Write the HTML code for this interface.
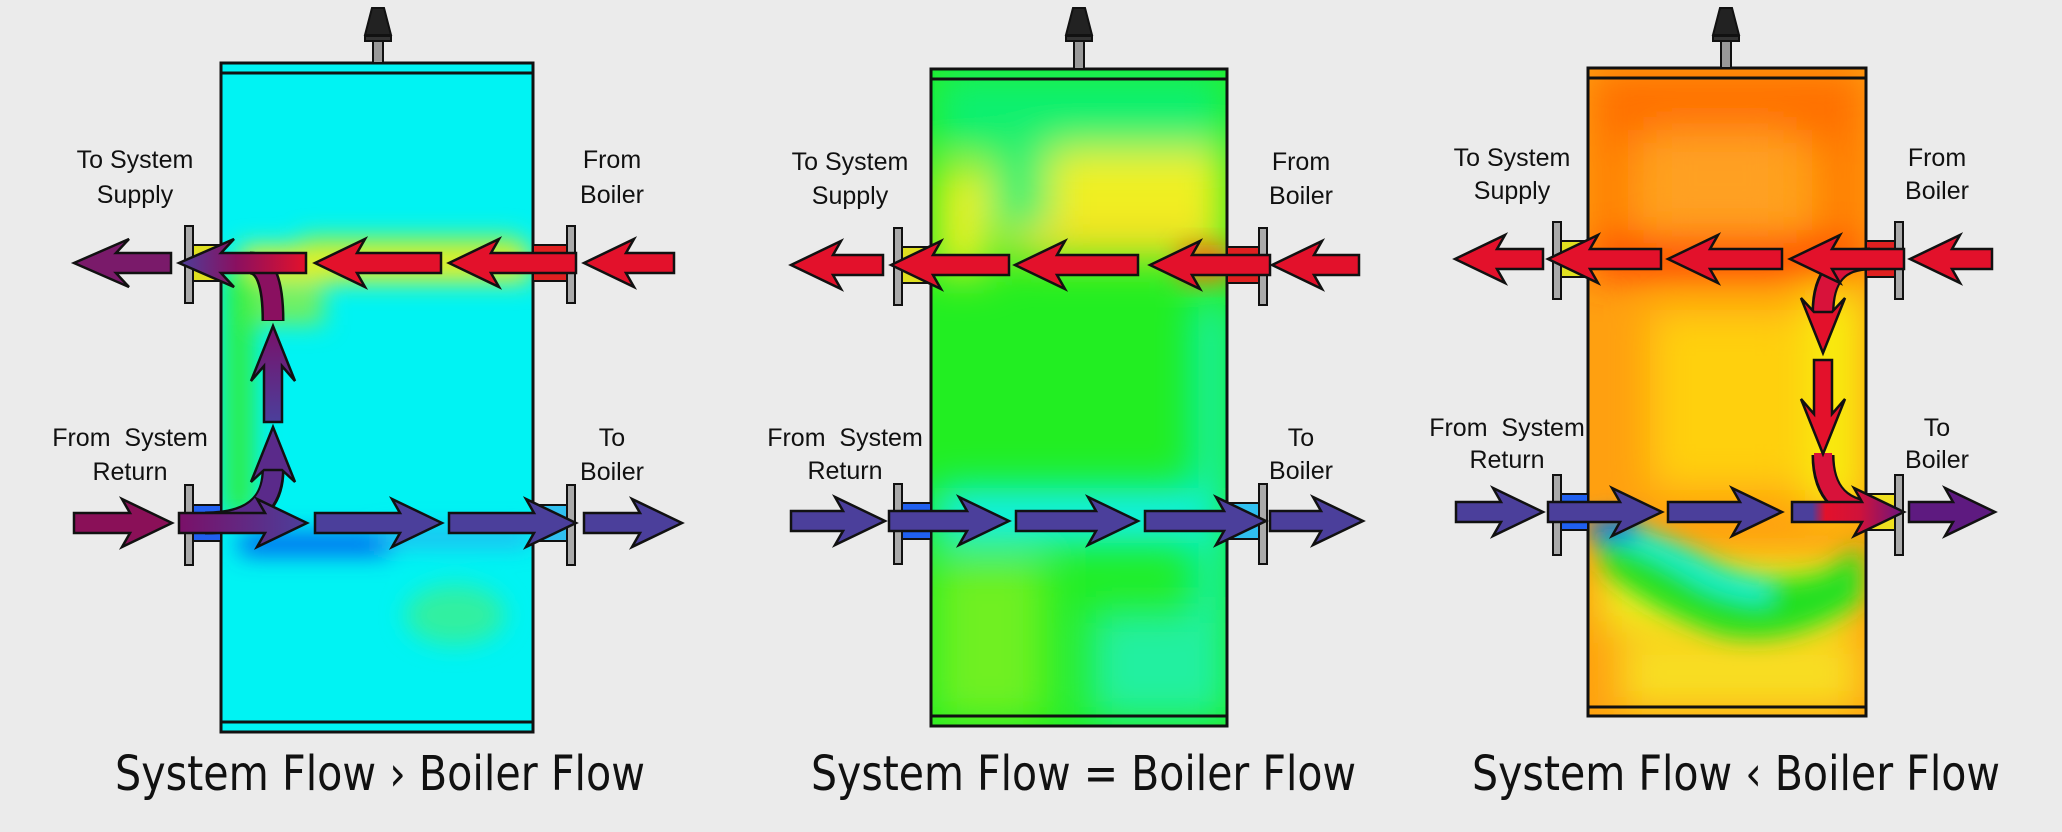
<!DOCTYPE html>
<html><head><meta charset="utf-8"><style>
html,body{margin:0;padding:0;background:#ebebeb;}
svg{display:block}
.lb{font-family:"Liberation Sans",sans-serif;font-size:25px;fill:#111;text-anchor:middle}
.cap{font-family:"DejaVu Sans","Liberation Sans",sans-serif;font-size:48px;fill:#111}
.ar{stroke:#111;stroke-width:2.5;stroke-linejoin:miter}
</style></head><body>
<svg width="2062" height="832" viewBox="0 0 2062 832" xmlns="http://www.w3.org/2000/svg">
<defs>
<filter id="b" x="-50%" y="-50%" width="200%" height="200%"><feGaussianBlur stdDeviation="12"/></filter>
<filter id="b2" x="-50%" y="-50%" width="200%" height="200%"><feGaussianBlur stdDeviation="20"/></filter>
<clipPath id="c1"><rect x="221" y="63" width="312" height="669"/></clipPath>
<clipPath id="c2"><rect x="931" y="69" width="296" height="657"/></clipPath>
<clipPath id="c3"><rect x="1588" y="68" width="278" height="648"/></clipPath>
<linearGradient id="g1a" x1="0" x2="1"><stop offset="0" stop-color="#4b3f9b"/><stop offset="0.45" stop-color="#8a1060"/><stop offset="1" stop-color="#e3112b"/></linearGradient>
<linearGradient id="g1b" x1="0" x2="1"><stop offset="0" stop-color="#7a1068"/><stop offset="1" stop-color="#4b3f9b"/></linearGradient>
<linearGradient id="g3" x1="0" x2="1"><stop offset="0" stop-color="#4b3f9b"/><stop offset="0.18" stop-color="#4b3f9b"/><stop offset="0.3" stop-color="#e3112b"/><stop offset="0.6" stop-color="#d0123a"/><stop offset="1" stop-color="#6a1580"/></linearGradient>
<linearGradient id="gv" x1="0" y1="1" x2="0" y2="0"><stop offset="0" stop-color="#4b3f9b"/><stop offset="1" stop-color="#7a1068"/></linearGradient>
</defs>
<rect width="2062" height="832" fill="#ebebeb"/>

<!-- ===== Panel 1 ===== -->
<g clip-path="url(#c1)">
<rect x="221" y="63" width="312" height="669" fill="#00f3f3"/>
<g filter="url(#b)">
<rect x="240" y="246" width="290" height="36" fill="#e8f020"/>
<rect x="300" y="236" width="220" height="16" fill="#a0f040"/>
<rect x="224" y="270" width="30" height="245" fill="#30ee40"/>
<rect x="254" y="285" width="70" height="40" fill="#70f060"/>
<rect x="240" y="534" width="150" height="20" fill="#0050f0"/>
<rect x="380" y="530" width="150" height="14" fill="#30a0f0"/>
<ellipse cx="455" cy="615" rx="50" ry="30" fill="#30f0a0"/>
</g>
</g>
<rect x="221" y="63" width="312" height="669" fill="none" stroke="#111" stroke-width="3"/>
<line x1="221" y1="73" x2="533" y2="73" stroke="#111" stroke-width="3"/>
<line x1="221" y1="722" x2="533" y2="722" stroke="#111" stroke-width="3"/>
<g stroke="#111" stroke-width="2" fill="#555"><rect x="373" y="40" width="10" height="23" fill="#999"/><rect x="365" y="36" width="26" height="5" fill="#333"/><path d="M372 8 L384 8 L391 35 L365 35 Z" fill="#222"/></g>
<g stroke="#111" stroke-width="2" fill="#888">
<rect x="193" y="245" width="28" height="36" fill="#e0e020"/><rect x="185" y="226" width="8" height="77" fill="#aaa"/>
<rect x="193" y="505" width="28" height="36" fill="#2060f0"/><rect x="185" y="485" width="8" height="80" fill="#aaa"/>
<rect x="533" y="245" width="34" height="36" fill="#e02020"/><rect x="567" y="226" width="8" height="77" fill="#aaa"/>
<rect x="533" y="505" width="34" height="36" fill="#30c0f0"/><rect x="567" y="485" width="8" height="80" fill="#aaa"/>
</g>
<path d="M250 263 Q273 263 273 321" fill="none" stroke="#111" stroke-width="23"/>
<path d="M250 263 Q273 263 273 320" fill="none" stroke="#8a1060" stroke-width="18"/>
<path d="M205 523 Q273 523 273 470" fill="none" stroke="#111" stroke-width="23"/>
<path d="M205 523 Q273 523 273 468" fill="none" stroke="#5a2a8a" stroke-width="18"/>
<polygon class="ar" fill="#7a1a6a" points="171,253 116,253 129,239 74,263 129,287 116,273 171,273"/>
<polygon class="ar" fill="url(#g1a)" points="306,253 221,253 234,239 179,263 234,287 221,273 306,273"/>
<polygon class="ar" fill="#e3112b" points="441,253 357,253 365,239 315,263 365,287 357,273 441,273"/>
<polygon class="ar" fill="#e3112b" points="576,253 491,253 499,239 449,263 499,287 491,273 576,273"/>
<polygon class="ar" fill="#e3112b" points="674,253 626,253 634,239 584,263 634,287 626,273 674,273"/>
<polygon class="ar" fill="#8a1058" points="74,513 130,513 122,499 172,523 122,547 130,533 74,533"/>
<polygon class="ar" fill="url(#g1b)" points="179,513 265,513 257,499 307,523 257,547 265,533 179,533"/>
<polygon class="ar" fill="#4b3f9b" points="315,513 400,513 392,499 442,523 392,547 400,533 315,533"/>
<polygon class="ar" fill="#4b3f9b" points="449,513 534,513 526,499 576,523 526,547 534,533 449,533"/>
<polygon class="ar" fill="#4b3f9b" points="584,513 640,513 632,499 682,523 632,547 640,533 584,533"/>
<polygon class="ar" fill="url(#gv)" points="264,422 264,366 251,381 273,326 295,381 282,366 282,422"/>
<polygon class="ar" fill="#5a2a8a" points="264,470 251,482 273,427 295,482 282,470"/>
<text class="lb" x="135" y="168">To System</text><text class="lb" x="135" y="203">Supply</text>
<text class="lb" x="612" y="168">From</text><text class="lb" x="612" y="203">Boiler</text>
<text class="lb" x="130" y="446">From&#160; System</text><text class="lb" x="130" y="480">Return</text>
<text class="lb" x="612" y="446">To</text><text class="lb" x="612" y="480">Boiler</text>
<text class="cap" x="115" y="790" textLength="530" lengthAdjust="spacingAndGlyphs">System Flow › Boiler Flow</text>

<!-- ===== Panel 2 ===== -->
<g clip-path="url(#c2)">
<rect x="931" y="69" width="296" height="657" fill="#22ee22"/>
<g filter="url(#b2)">
<rect x="935" y="72" width="290" height="80" fill="#10f070"/>
<rect x="1050" y="150" width="175" height="110" fill="#f0f020"/>
<rect x="1010" y="220" width="200" height="40" fill="#f0e020"/>
<rect x="935" y="165" width="55" height="110" fill="#e8f020"/>
<rect x="990" y="140" width="60" height="90" fill="#30f070"/>
<rect x="935" y="488" width="290" height="55" fill="#10f0f0"/>
<rect x="1195" y="300" width="32" height="420" fill="#10f0c0"/>
<rect x="935" y="560" width="110" height="160" fill="#70f020"/>
<rect x="1090" y="610" width="130" height="110" fill="#20f0a0"/>
</g>
<rect x="1180" y="245" width="50" height="35" fill="#f07010" filter="url(#b)"/>
</g>
<rect x="931" y="69" width="296" height="657" fill="none" stroke="#111" stroke-width="3"/>
<line x1="931" y1="79" x2="1227" y2="79" stroke="#111" stroke-width="3"/>
<line x1="931" y1="716" x2="1227" y2="716" stroke="#111" stroke-width="3"/>
<g stroke="#111" stroke-width="2"><rect x="1074" y="40" width="10" height="29" fill="#999"/><rect x="1066" y="36" width="26" height="5" fill="#333"/><path d="M1073 8 L1085 8 L1092 35 L1066 35 Z" fill="#222"/></g>
<g stroke="#111" stroke-width="2" fill="#888">
<rect x="902" y="247" width="29" height="36" fill="#e0e020"/><rect x="894" y="228" width="8" height="77" fill="#aaa"/>
<rect x="902" y="503" width="29" height="36" fill="#2060f0"/><rect x="894" y="484" width="8" height="80" fill="#aaa"/>
<rect x="1227" y="247" width="32" height="36" fill="#e02020"/><rect x="1259" y="228" width="8" height="77" fill="#aaa"/>
<rect x="1227" y="503" width="32" height="36" fill="#30c0f0"/><rect x="1259" y="484" width="8" height="80" fill="#aaa"/>
</g>
<polygon class="ar" fill="#e3112b" points="883,255 833,255 841,241 791,265 841,289 833,275 883,275"/>
<polygon class="ar" fill="#e3112b" points="1009,255 933,255 941,241 891,265 941,289 933,275 1009,275"/>
<polygon class="ar" fill="#e3112b" points="1138,255 1057,255 1065,241 1015,265 1065,289 1057,275 1138,275"/>
<polygon class="ar" fill="#e3112b" points="1270,255 1192,255 1200,241 1150,265 1200,289 1192,275 1270,275"/>
<polygon class="ar" fill="#e3112b" points="1359,255 1314,255 1322,241 1272,265 1322,289 1314,275 1359,275"/>
<polygon class="ar" fill="#4b3f9b" points="791,511 843,511 835,497 885,521 835,545 843,531 791,531"/>
<polygon class="ar" fill="#4b3f9b" points="889,511 967,511 959,497 1009,521 959,545 967,531 889,531"/>
<polygon class="ar" fill="#4b3f9b" points="1016,511 1096,511 1088,497 1138,521 1088,545 1096,531 1016,531"/>
<polygon class="ar" fill="#4b3f9b" points="1145,511 1224,511 1216,497 1266,521 1216,545 1224,531 1145,531"/>
<polygon class="ar" fill="#4b3f9b" points="1270,511 1321,511 1313,497 1363,521 1313,545 1321,531 1270,531"/>
<text class="lb" x="850" y="170">To System</text><text class="lb" x="850" y="204">Supply</text>
<text class="lb" x="1301" y="170">From</text><text class="lb" x="1301" y="204">Boiler</text>
<text class="lb" x="845" y="446">From&#160; System</text><text class="lb" x="845" y="479">Return</text>
<text class="lb" x="1301" y="446">To</text><text class="lb" x="1301" y="479">Boiler</text>
<text class="cap" x="811" y="790" textLength="545" lengthAdjust="spacingAndGlyphs">System Flow = Boiler Flow</text>

<!-- ===== Panel 3 ===== -->
<g clip-path="url(#c3)">
<rect x="1588" y="68" width="278" height="648" fill="#ffa010"/>
<g filter="url(#b2)">
<rect x="1590" y="70" width="275" height="70" fill="#ff7000"/>
<rect x="1590" y="140" width="40" height="120" fill="#ff7a00"/>
<rect x="1820" y="140" width="45" height="110" fill="#ff7a00"/>
<rect x="1650" y="130" width="140" height="100" fill="#ffa020"/>
<rect x="1590" y="240" width="275" height="36" fill="#ff3a00"/>
<rect x="1650" y="310" width="150" height="180" fill="#ffd010"/>
<rect x="1805" y="290" width="58" height="220" fill="#f8f010"/>
<rect x="1600" y="560" width="250" height="70" fill="#f0f020"/>
<rect x="1620" y="640" width="240" height="70" fill="#f8e020"/>
</g>
<g filter="url(#b)">
<path d="M1595 525 Q1660 530 1710 560 Q1770 590 1830 570 L1862 545 L1862 600 Q1790 650 1720 635 Q1650 610 1605 570 Z" fill="#20e020"/>
<path d="M1610 528 Q1660 545 1700 572 Q1725 588 1770 592" fill="none" stroke="#10f0e0" stroke-width="20"/>
<rect x="1590" y="518" width="45" height="22" fill="#0060f0"/>
</g>
</g>
<rect x="1588" y="68" width="278" height="648" fill="none" stroke="#111" stroke-width="3"/>
<line x1="1588" y1="78" x2="1866" y2="78" stroke="#111" stroke-width="3"/>
<line x1="1588" y1="707" x2="1866" y2="707" stroke="#111" stroke-width="3"/>
<g stroke="#111" stroke-width="2"><rect x="1721" y="40" width="10" height="28" fill="#999"/><rect x="1713" y="36" width="26" height="5" fill="#333"/><path d="M1720 8 L1732 8 L1739 35 L1713 35 Z" fill="#222"/></g>
<g stroke="#111" stroke-width="2" fill="#888">
<rect x="1561" y="241" width="27" height="36" fill="#e0e020"/><rect x="1553" y="222" width="8" height="77" fill="#aaa"/>
<rect x="1561" y="494" width="27" height="36" fill="#2060f0"/><rect x="1553" y="475" width="8" height="80" fill="#aaa"/>
<rect x="1866" y="241" width="29" height="36" fill="#e02020"/><rect x="1895" y="222" width="8" height="77" fill="#aaa"/>
<rect x="1866" y="494" width="29" height="36" fill="#f0e020"/><rect x="1895" y="475" width="8" height="80" fill="#aaa"/>
</g>
<path d="M1870 259 Q1823 259 1823 312" fill="none" stroke="#111" stroke-width="23"/>
<path d="M1870 259 Q1823 259 1823 314" fill="none" stroke="#d8123a" stroke-width="18"/>
<path d="M1823 455 Q1823 512 1880 512" fill="none" stroke="#111" stroke-width="23"/>
<path d="M1823 453 Q1823 512 1880 512" fill="none" stroke="#d8123a" stroke-width="18"/>
<polygon class="ar" fill="#e3112b" points="1543,249 1497,249 1505,235 1455,259 1505,283 1497,269 1543,269"/>
<polygon class="ar" fill="#e3112b" points="1661,249 1590,249 1598,235 1548,259 1598,283 1590,269 1661,269"/>
<polygon class="ar" fill="#e3112b" points="1782,249 1710,249 1718,235 1668,259 1718,283 1710,269 1782,269"/>
<polygon class="ar" fill="#e3112b" points="1904,249 1832,249 1840,235 1790,259 1840,283 1832,269 1904,269"/>
<polygon class="ar" fill="#e3112b" points="1992,249 1952,249 1960,235 1910,259 1960,283 1952,269 1992,269"/>
<polygon class="ar" fill="#e3112b" points="1814,312 1801,298 1823,353 1845,298 1832,312"/>
<polygon class="ar" fill="#e3112b" points="1814,360 1814,414 1801,399 1823,454 1845,399 1832,414 1832,360"/>
<polygon class="ar" fill="#4b3f9b" points="1456,502 1501,502 1493,488 1543,512 1493,536 1501,522 1456,522"/>
<polygon class="ar" fill="#4b3f9b" points="1548,502 1620,502 1612,488 1662,512 1612,536 1620,522 1548,522"/>
<polygon class="ar" fill="#4b3f9b" points="1668,502 1740,502 1732,488 1782,512 1732,536 1740,522 1668,522"/>
<polygon class="ar" fill="url(#g3)" points="1792,502 1862,502 1854,488 1904,512 1854,536 1862,522 1792,522"/>
<polygon class="ar" fill="#5e1a80" points="1909,502 1953,502 1945,488 1995,512 1945,536 1953,522 1909,522"/>
<text class="lb" x="1512" y="166">To System</text><text class="lb" x="1512" y="199">Supply</text>
<text class="lb" x="1937" y="166">From</text><text class="lb" x="1937" y="199">Boiler</text>
<text class="lb" x="1507" y="436">From&#160; System</text><text class="lb" x="1507" y="468">Return</text>
<text class="lb" x="1937" y="436">To</text><text class="lb" x="1937" y="468">Boiler</text>
<text class="cap" x="1472" y="790" textLength="528" lengthAdjust="spacingAndGlyphs">System Flow ‹ Boiler Flow</text>
</svg>
</body></html>
